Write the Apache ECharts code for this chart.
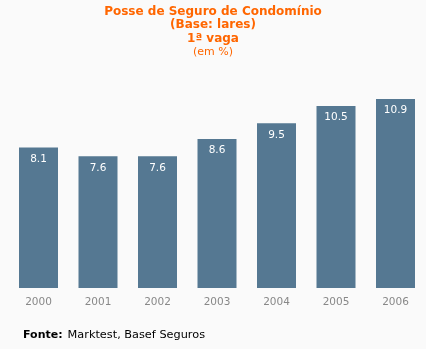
<!DOCTYPE html>
<html><head><meta charset="utf-8">
<script src="https://cdn.jsdelivr.net/npm/echarts@6/dist/echarts.min.js"></script>
<style>html,body{margin:0;padding:0;background:#fafafa}#c{width:426px;height:349px}</style>
</head><body><div id="c"></div>
<script>
const categories = ['2000','2001','2002','2003','2004','2005','2006'];
const values = [8.1, 7.6, 7.6, 8.6, 9.5, 10.5, 10.9];
const titleLines = ['Posse de Seguro de Condomínio', '(Base: lares)', '1ª vaga'];
const unitText = '(em %)';
const sourceLabel = 'Fonte:';
const sourceText = 'Marktest, Basef Seguros';

const chart = echarts.init(document.getElementById('c'));
const FONT = '"DejaVu Sans", Verdana, sans-serif';
chart.setOption({
  backgroundColor: '#fafafa',
  animation: false,
  title: [
    { text: titleLines.join('\n'), left: 'center', top: 5, padding: 0,
      textStyle: { fontFamily: FONT, fontSize: 12, fontWeight: 'bold', color: '#ff6600', lineHeight: 13.5 } },
    { text: unitText, left: 'center', top: 45.5, padding: 0,
      textStyle: { fontFamily: FONT, fontSize: 11, fontWeight: 'normal', color: '#ff6600', lineHeight: 13 } },
    { text: '{b|' + sourceLabel + '} {n|' + sourceText + '}', left: 23, top: 326, padding: 0,
      textStyle: { fontWeight: 'normal', rich: {
        b: { fontFamily: FONT, fontSize: 11, fontWeight: 'bold', color: '#000' },
        n: { fontFamily: FONT, fontSize: 11.3, fontWeight: 'normal', color: '#000' } } } }
  ],
  grid: { left: 8.75, right: 0.75, top: 80, bottom: 61 },
  xAxis: {
    type: 'category', data: categories,
    axisLine: { show: false }, axisTick: { show: false },
    axisLabel: { color: '#888888', fontFamily: FONT, fontSize: 10.5, margin: 9 }
  },
  yAxis: { type: 'value', min: 0, max: 12, show: false, splitLine: { show: false } },
  series: [{
    type: 'bar', data: values, barWidth: 39,
    itemStyle: { color: '#557892' },
    label: { show: true, position: 'insideTop', distance: 6, color: '#ffffff',
      fontFamily: FONT, fontSize: 10.5, formatter: p => p.value.toFixed(1) }
  }]
});
</script></body></html>
